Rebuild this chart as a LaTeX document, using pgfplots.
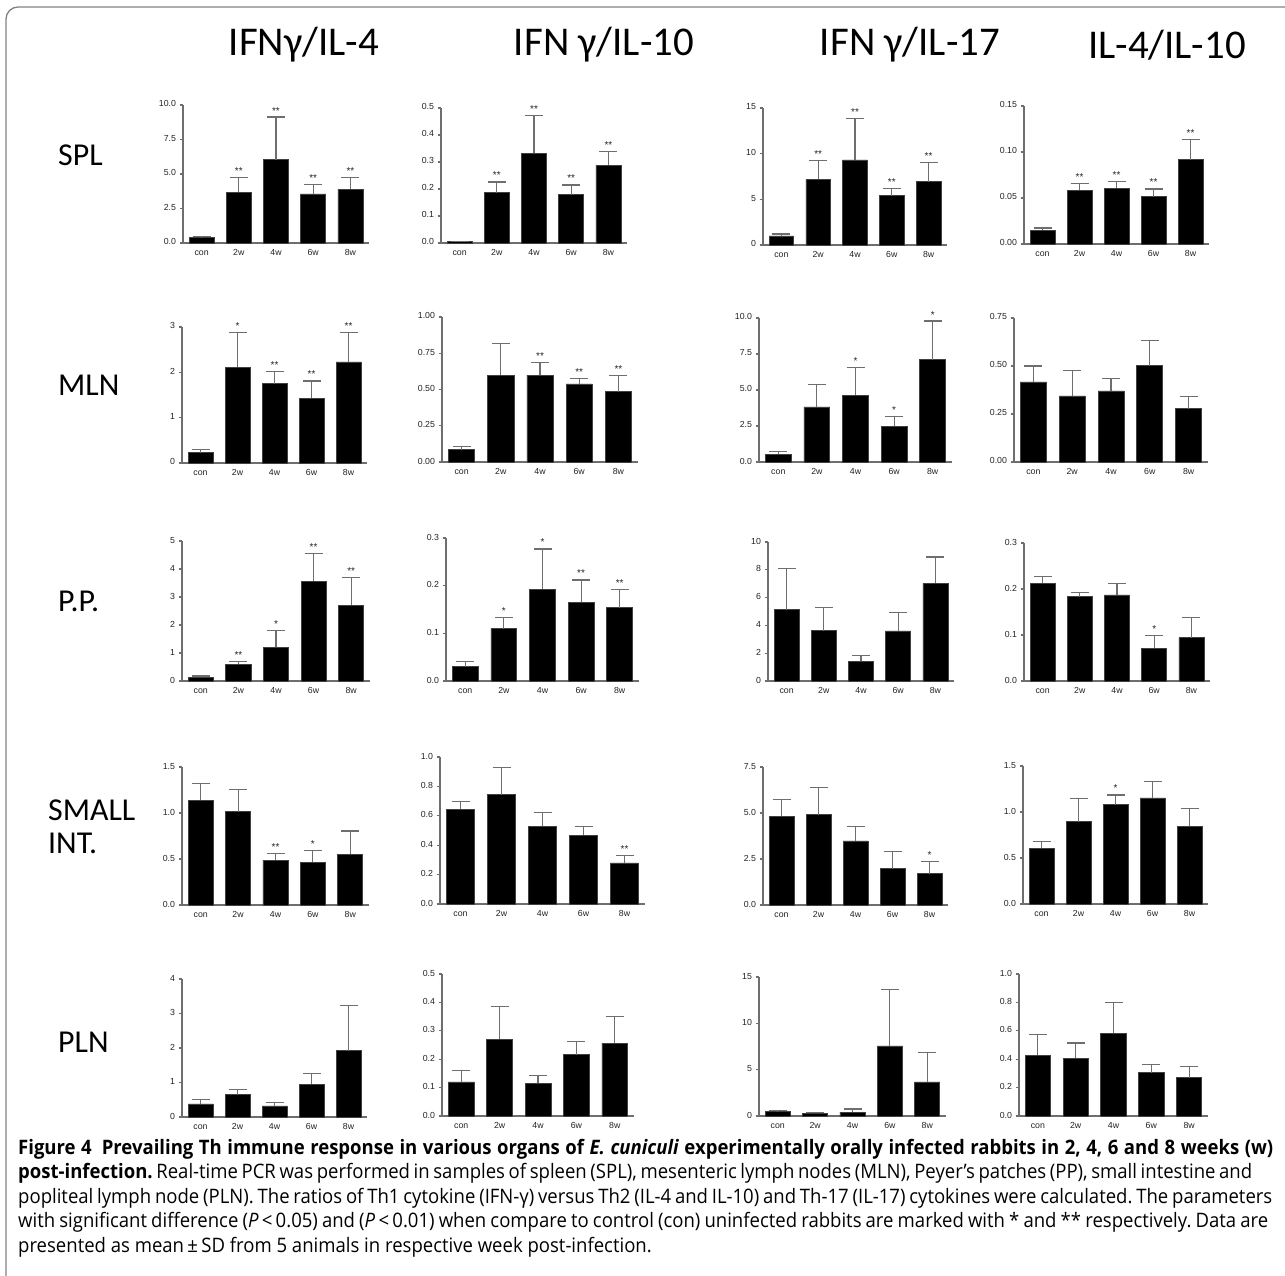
\documentclass[border=0pt]{standalone}
\usepackage{pgfplots}
\pgfplotsset{compat=1.18}
\usepackage{pgfplotstable}
\usepackage{fontspec}
\setmainfont{Liberation Sans}
\newfontfamily\headfont{Carlito}
\newfontfamily\capfont[FakeStretch=0.93]{Open Sans}
\newcommand\tickfont{\fontsize{8.8}{10}\selectfont}
\newcommand\starfont{\fontsize{10}{10}\selectfont}

\definecolor{axgray}{RGB}{110,110,110}
\definecolor{txt}{RGB}{35,35,35}
\definecolor{framegray}{RGB}{130,130,130}

\pgfplotsset{
  panel/.style={
    scale only axis, anchor=south west,
    xmin=-0.5, xmax=4.5, ymin=0,
    axis x line*=bottom, axis y line*=left,
    axis line style={draw=axgray, line width=1.1bp},
    xtick={0,1,2,3,4}, xticklabels={con,2w,4w,6w,8w},
    typeset ticklabels with strut,
    x tick style={draw=none},
    y tick style={draw=axgray, line width=1.1bp},
    tick align=outside, major tick length=3.5bp,
    tick label style={font=\tickfont, text=txt},
    xticklabel style={yshift=1.5bp},
    clip=false,
  },
  bars/.style={ybar, bar width=0.67, fill=black, draw=black!75, line width=0.7bp,
    error bars/.cd, y dir=plus, y explicit, error mark=|,
    error bar style={draw=axgray, line width=1.1bp},
    error mark options={draw=axgray, line width=1.1bp, mark size=9bp}},
  stars/.style={draw=none, mark=none, point meta=explicit symbolic, nodes near coords,
    nodes near coords style={font=\starfont, text=txt, anchor=base, inner sep=0pt, yshift=3bp}},
}

% #1 x of y axis, #2 y of zero line (from top), #3 width, #4 height,
% #5 ymax, #6 ticks, #7 tick labels, #8 table
\newcommand\panel[8]{%
  \begin{axis}[panel, at={(#1bp,-#2bp)}, width=#3bp, height=#4bp,
    ymax=#5, ytick={#6}, yticklabels={#7}]
    \addplot[bars] table[x=x, y=y, y error=e] {#8};
    \addplot[stars] table[x=x, y expr=\thisrow{y}+\thisrow{e}, meta=s] {#8};
  \end{axis}}

% SPL
\pgfplotstableread{
x y e s
0 0.39 0.07 {}
1 3.68 1.04 **
2 6.05 3.08 **
3 3.56 0.68 **
4 3.90 0.87 **
}\spla
\pgfplotstableread{
x y e s
0 0.005 0.001 {}
1 0.187 0.039 **
2 0.332 0.140 **
3 0.179 0.036 **
4 0.288 0.050 **
}\splb
\pgfplotstableread{
x y e s
0 0.99 0.21 {}
1 7.19 2.08 **
2 9.31 4.56 **
3 5.40 0.80 **
4 6.93 2.12 **
}\splc
\pgfplotstableread{
x y e s
0 0.0149 0.0025 {}
1 0.0583 0.0076 **
2 0.0605 0.0076 **
3 0.0514 0.0084 **
4 0.0917 0.0221 **
}\spld
% MLN
\pgfplotstableread{
x y e s
0 0.228 0.066 {}
1 2.11 0.76 *
2 1.75 0.27 **
3 1.43 0.38 **
4 2.23 0.65 **
}\mlna
\pgfplotstableread{
x y e s
0 0.085 0.021 {}
1 0.599 0.221 {}
2 0.599 0.085 **
3 0.539 0.037 **
4 0.486 0.111 **
}\mlnb
\pgfplotstableread{
x y e s
0 0.53 0.19 {}
1 3.83 1.57 {}
2 4.62 1.92 *
3 2.47 0.67 *
4 7.11 2.68 *
}\mlnc
\pgfplotstableread{
x y e s
0 0.417 0.083 {}
1 0.344 0.132 {}
2 0.370 0.064 {}
3 0.502 0.132 {}
4 0.278 0.064 {}
}\mlnd
% P.P.
\pgfplotstableread{
x y e s
0 0.13 0.05 {}
1 0.60 0.11 **
2 1.21 0.58 *
3 3.57 0.99 **
4 2.70 0.99 **
}\ppa
\pgfplotstableread{
x y e s
0 0.030 0.010 {}
1 0.110 0.024 *
2 0.193 0.084 *
3 0.165 0.047 **
4 0.154 0.038 **
}\ppb
\pgfplotstableread{
x y e s
0 5.13 2.95 {}
1 3.62 1.66 {}
2 1.41 0.44 {}
3 3.60 1.32 {}
4 7.03 1.89 {}
}\ppc
\pgfplotstableread{
x y e s
0 0.213 0.015 {}
1 0.183 0.009 {}
2 0.187 0.025 {}
3 0.071 0.027 *
4 0.094 0.045 {}
}\ppd
% SMALL INT.
\pgfplotstableread{
x y e s
0 1.138 0.181 {}
1 1.014 0.243 {}
2 0.489 0.069 **
3 0.467 0.127 *
4 0.551 0.253 {}
}\inta
\pgfplotstableread{
x y e s
0 0.645 0.054 {}
1 0.743 0.186 {}
2 0.528 0.094 {}
3 0.467 0.059 {}
4 0.280 0.048 **
}\intb
\pgfplotstableread{
x y e s
0 4.82 0.92 {}
1 4.91 1.50 {}
2 3.48 0.78 {}
3 1.97 0.96 {}
4 1.70 0.67 *
}\intc
\pgfplotstableread{
x y e s
0 0.607 0.069 {}
1 0.894 0.251 {}
2 1.080 0.105 *
3 1.153 0.174 {}
4 0.844 0.192 {}
}\intd
% PLN
\pgfplotstableread{
x y e s
0 0.378 0.135 {}
1 0.649 0.136 {}
2 0.320 0.096 {}
3 0.949 0.300 {}
4 1.918 1.317 {}
}\plna
\pgfplotstableread{
x y e s
0 0.120 0.040 {}
1 0.270 0.117 {}
2 0.116 0.026 {}
3 0.216 0.045 {}
4 0.257 0.093 {}
}\plnb
\pgfplotstableread{
x y e s
0 0.47 0.11 {}
1 0.32 0.08 {}
2 0.43 0.33 {}
3 7.57 6.13 {}
4 3.68 3.17 {}
}\plnc
\pgfplotstableread{
x y e s
0 0.427 0.146 {}
1 0.408 0.106 {}
2 0.583 0.214 {}
3 0.304 0.059 {}
4 0.269 0.082 {}
}\plnd

\begin{document}
\frenchspacing
\begin{tikzpicture}
\useasboundingbox (0,0) rectangle (1285bp,-1276bp);
\draw[framegray, line width=1.3bp, rounded corners=12bp] (6bp,-1290bp) -- (6bp,-7bp) -- (1300bp,-7bp);

% column titles
\foreach \cx/\t in {304/{IFNγ/IL-4}, 604/{IFN γ/IL-10}, 910/{IFN γ/IL-17}, 1167/{IL-4/IL-10}}
  \node[font=\headfont\fontsize{41}{45}\selectfont, inner sep=0pt] at (\cx bp,-45bp) {\t};

% row labels
\begin{scope}[every node/.style={font=\headfont\fontsize{32}{36}\selectfont, inner sep=0pt, anchor=west}]
\node at (58bp,-155bp) {SPL};
\node at (58bp,-385bp) {MLN};
\node at (58bp,-601bp) {P.P.};
\node at (48bp,-810bp) {SMALL};
\node at (48bp,-843bp) {INT.};
\node at (58bp,-1042bp) {PLN};
\end{scope}

% row 1 SPL
\panel{183}{243}{186}{138}{10}{0,2.5,5,7.5,10}{0.0,2.5,5.0,7.5,10.0}{\spla}
\panel{441}{243}{186}{135}{0.5}{0,0.1,0.2,0.3,0.4,0.5}{0.0,0.1,0.2,0.3,0.4,0.5}{\splb}
\panel{763}{245}{184}{137}{15}{0,5,10,15}{0,5,10,15}{\splc}
\panel{1024}{244}{185}{138}{0.15}{0,0.05,0.1,0.15}{0.00,0.05,0.10,0.15}{\spld}
% row 2 MLN
\panel{182}{463}{185}{136}{3}{0,1,2,3}{0,1,2,3}{\mlna}
\panel{442}{462}{196}{145}{1}{0,0.25,0.5,0.75,1}{0.00,0.25,0.50,0.75,1.00}{\mlnb}
\panel{759}{462}{193}{144}{10}{0,2.5,5,7.5,10}{0.0,2.5,5.0,7.5,10.0}{\mlnc}
\panel{1014}{462}{194}{144}{0.75}{0,0.25,0.5,0.75}{0.00,0.25,0.50,0.75}{\mlnd}
% row 3 P.P.
\panel{182}{681}{188}{140}{5}{0,1,2,3,4,5}{0,1,2,3,4,5}{\ppa}
\panel{446}{681}{193}{143}{0.3}{0,0.1,0.2,0.3}{0.0,0.1,0.2,0.3}{\ppb}
\panel{768}{681}{186}{139}{10}{0,2,4,6,8,10}{0,2,4,6,8,10}{\ppc}
\panel{1024}{681}{186}{138}{0.3}{0,0.1,0.2,0.3}{0.0,0.1,0.2,0.3}{\ppd}
% row 4 SMALL INT.
\panel{182}{905}{187}{138}{1.5}{0,0.5,1,1.5}{0.0,0.5,1.0,1.5}{\inta}
\panel{440}{904}{205}{147}{1}{0,0.2,0.4,0.6,0.8,1}{0.0,0.2,0.4,0.6,0.8,1.0}{\intb}
\panel{763}{905}{185}{138}{7.5}{0,2.5,5,7.5}{0.0,2.5,5.0,7.5}{\intc}
\panel{1023}{904}{185}{138}{1.5}{0,0.5,1,1.5}{0.0,0.5,1.0,1.5}{\intd}
% row 5 PLN
\panel{182}{1117}{185}{138}{4}{0,1,2,3,4}{0,1,2,3,4}{\plna}
\panel{442}{1116}{192}{142}{0.5}{0,0.1,0.2,0.3,0.4,0.5}{0.0,0.1,0.2,0.3,0.4,0.5}{\plnb}
\panel{759}{1116}{187}{139}{15}{0,5,10,15}{0,5,10,15}{\plnc}
\panel{1019}{1116}{189}{142}{1}{0,0.2,0.4,0.6,0.8,1}{0.0,0.2,0.4,0.6,0.8,1.0}{\plnd}

% caption
\begin{scope}[every node/.style={font=\capfont\fontsize{20}{24}\selectfont\frenchspacing, inner sep=0pt, anchor=base west}]
\node at (18bp,-1154bp) {\makebox[1255bp][s]{\textbf{Figure 4\hspace{10bp}Prevailing Th immune response in various organs of \textit{E. cuniculi} experimentally orally infected rabbits in 2, 4, 6 and 8 weeks (w)}}};
\node at (18bp,-1178.5bp) {\makebox[1234bp][s]{\textbf{post-infection.} Real-time PCR was performed in samples of spleen (SPL), mesenteric lymph nodes (MLN), Peyer’s patches (PP), small intestine and}};
\node at (18bp,-1203bp) {\makebox[1254bp][s]{popliteal lymph node (PLN). The ratios of Th1 cytokine (IFN-γ) versus Th2 (IL-4 and IL-10) and Th-17 (IL-17) cytokines were calculated. The parameters}};
\node at (18bp,-1227.5bp) {\makebox[1250bp][s]{with significant difference (\textit{P}\,<\,0.05) and (\textit{P}\,<\,0.01) when compare to control (con) uninfected rabbits are marked with * and ** respectively. Data are}};
\node at (18bp,-1252bp) {presented as mean\,±\,SD from 5 animals in respective week post-infection.};
\end{scope}
\end{tikzpicture}
\end{document}
